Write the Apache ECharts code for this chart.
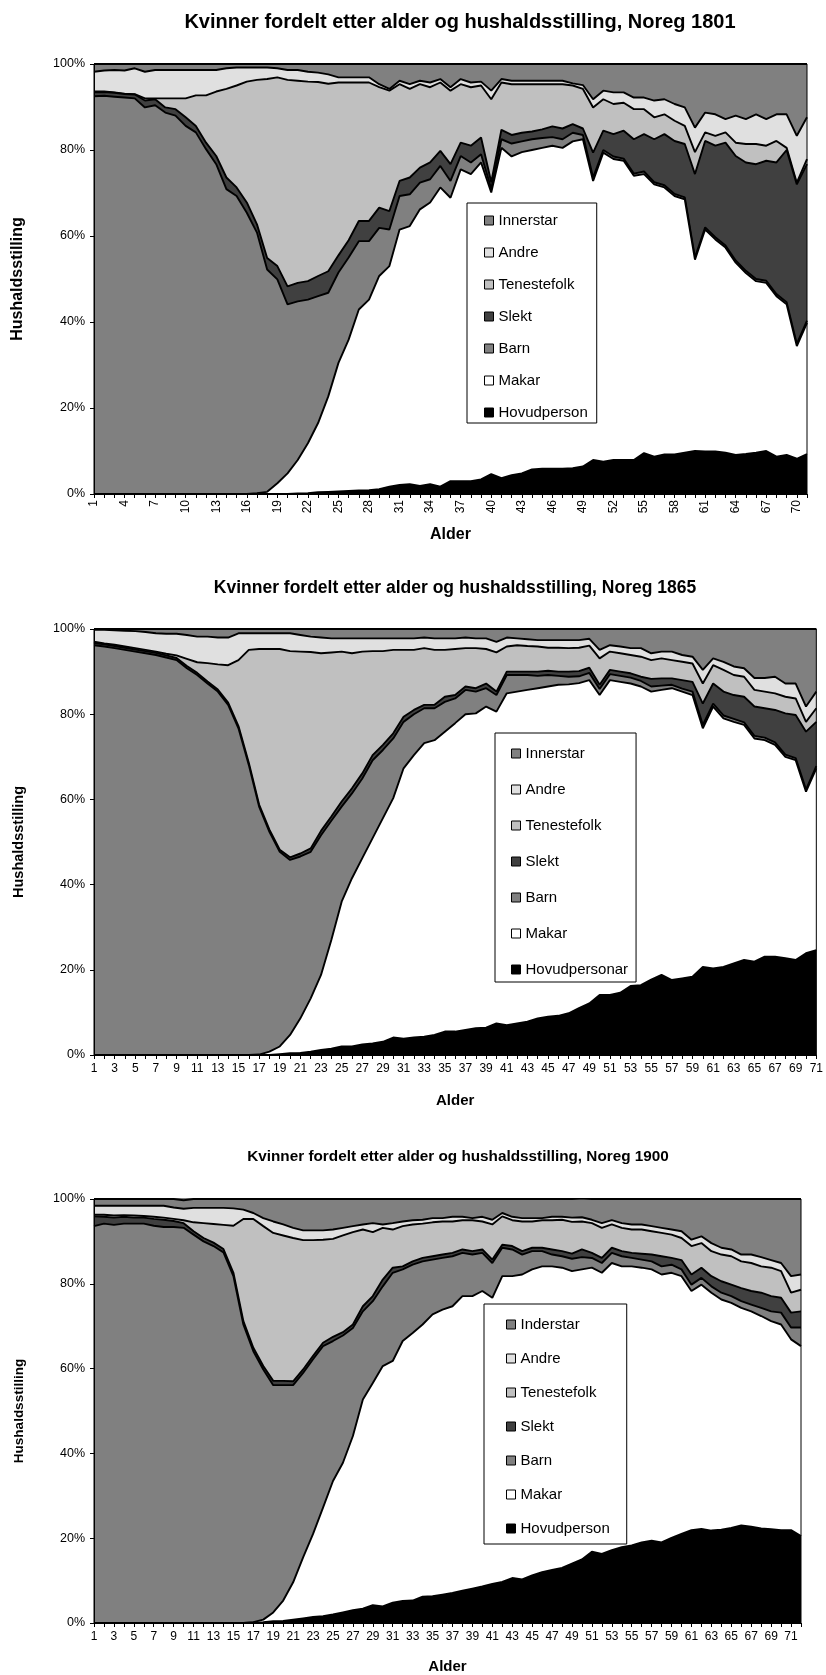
<!DOCTYPE html>
<html><head><meta charset="utf-8">
<script src="https://cdn.jsdelivr.net/npm/echarts@6/dist/echarts.min.js"></script>
<style>html,body{margin:0;padding:0;background:#fff}#c{width:826px;height:1675px}</style>
</head><body><div id="c"></div>
<script>
// ---------- categories (age) ----------
const ages1801 = [1,2,3,4,5,6,7,8,9,10,11,12,13,14,15,16,17,18,19,20,21,22,23,24,25,26,27,28,29,30,31,32,33,34,35,36,37,38,39,40,41,42,43,44,45,46,47,48,49,50,51,52,53,54,55,56,57,58,59,60,61,62,63,64,65,66,67,68,69,70,71];
const ages1865 = [1,2,3,4,5,6,7,8,9,10,11,12,13,14,15,16,17,18,19,20,21,22,23,24,25,26,27,28,29,30,31,32,33,34,35,36,37,38,39,40,41,42,43,44,45,46,47,48,49,50,51,52,53,54,55,56,57,58,59,60,61,62,63,64,65,66,67,68,69,70,71];
const ages1900 = [1,2,3,4,5,6,7,8,9,10,11,12,13,14,15,16,17,18,19,20,21,22,23,24,25,26,27,28,29,30,31,32,33,34,35,36,37,38,39,40,41,42,43,44,45,46,47,48,49,50,51,52,53,54,55,56,57,58,59,60,61,62,63,64,65,66,67,68,69,70,71,72];

// ---------- 1801 (percent) ----------
const hov1801 = [0,0,0,0,0,0,0,0,0,0, 0,0,0,0,0,0,0,0,0,0, 0.1,0.2,0.4,0.5,0.6,0.7,0.8,0.9,1.1,1.7, 2.1,2.3,1.9,2.3,1.7,3.0,3.0,3.0,3.4,4.6, 3.7,4.4,4.8,5.7,5.9,5.9,5.9,6.0,6.4,7.9, 7.5,7.9,7.9,7.9,9.5,8.7,9.2,9.2,9.6,10.0, 9.9,9.9,9.6,9.1,9.3,9.6,10.0,8.7,9.1,8.2, 9.3];
const mak1801 = [0,0,0,0,0,0,0,0,0,0, 0,0,0,0,0,0,0.2,0.5,2.5,4.8, 7.8,11.6,16.1,22.2,29.9,35.2,42.1,44.3,49.6,51.3, 59.4,60.0,64.3,65.5,69.6,65.9,72.5,71.4,73.7,65.5, 76.8,74.1,74.7,74.3,74.6,75.1,74.6,76.0,76.1,64.9, 71.9,70.0,69.6,66.1,64.9,63.3,62.1,60.1,58.9,44.5, 51.6,49.3,47.7,44.7,42.1,39.9,39.1,37.3,35.0,26.2, 30.5];
const barn1801 = [92.5,92.6,92.4,92.2,92.0,89.9,90.4,88.7,88.0,85.6, 84.1,80.2,76.7,70.9,69.3,65.4,60.6,51.7,47.4,39.3, 36.9,33.4,29.5,24.1,21.0,19.1,15.9,13.6,11.2,8.5, 7.8,7.4,6.2,5.4,5.0,3.9,3.1,2.7,1.9,0.9, 2.0,3.0,2.5,2.5,2.3,2.0,2.0,2.0,1.0,0.8, 0.6,0.6,0.5,0.5,0.6,0.5,0.5,0.5,0.5,0.5, 0.5,0.5,0.5,0.5,0.5,0.5,0.5,0.5,0.5,0.5, 0.5];
const slekt1801 = [0.9,0.9,0.9,0.8,0.9,1.6,1.4,1.2,1.5,2.0, 1.5,1.5,1.9,2.7,2.0,2.4,1.9,2.7,3.1,4.2, 4.3,4.3,4.7,5.0,4.0,4.0,4.7,4.7,4.7,4.3, 3.5,3.9,3.5,3.9,3.5,3.9,3.1,3.9,3.9,1.5, 2.2,2.0,2.0,1.8,2.0,2.5,2.5,2.0,1.5,5.8, 4.5,5.2,6.5,8.0,8.7,10.0,11.9,12.3,12.4,19.4, 20.1,21.3,23.9,24.3,25.2,26.7,27.9,30.6,35.4,37.1, 36.4];
const ten1801 = [0.2,0.1,0.1,0.1,0.1,0.5,0.2,2.1,2.5,4.4, 7.1,11.0,15.0,20.6,23.7,28.1,33.6,41.6,43.9,48.0, 47.0,46.4,45.1,43.6,40.2,36.7,32.2,32.2,28.0,28.0, 22.5,20.6,19.4,17.5,15.9,17.1,13.6,13.6,12.1,19.3, 11.0,11.8,11.3,11.0,10.5,9.8,10.3,9.0,9.2,10.5, 7.3,7.0,6.5,7.0,5.8,5.1,4.6,4.7,4.2,5.1, 2.0,2.3,2.4,3.1,4.3,4.7,3.5,5.0,0.5,0.4, 1.2];
const andre1801 = [4.6,4.9,5.2,5.4,6.0,6.2,6.6,6.6,6.6,6.6, 5.9,5.9,5.0,4.8,4.2,3.3,2.9,2.7,2.1,2.3, 2.5,2.3,2.2,2.2,1.2,1.2,1.2,1.2,0.7,0.4, 0.8,1.1,0.8,1.1,0.8,0.8,1.2,1.1,0.9,2.0, 0.8,0.8,0.8,0.8,0.8,0.8,0.8,0.5,0.9,1.9, 2.0,2.7,2.4,2.7,2.7,3.9,3.5,3.9,4.3,5.7, 4.6,5.0,3.1,6.3,5.8,6.9,6.2,6.2,7.8,10.9, 9.7];
const inn1801 = [1.8,1.5,1.4,1.5,1.0,1.8,1.4,1.4,1.4,1.4, 1.4,1.4,1.4,1.0,0.8,0.8,0.8,0.8,1.0,1.4, 1.4,1.8,2.0,2.4,3.1,3.1,3.1,3.1,4.7,5.8, 3.9,4.7,3.9,4.3,3.5,5.4,3.5,4.3,4.1,6.2, 3.5,3.9,3.9,3.9,3.9,3.9,3.9,4.5,4.9,8.2, 6.2,6.6,6.6,7.8,7.8,8.5,8.2,9.3,10.1,14.8, 11.3,11.7,12.8,12.0,12.8,11.7,12.8,11.7,11.7,16.7, 12.4];

// ---------- 1865 ----------
const hov1865 = [0,0,0,0,0,0,0,0,0,0, 0,0,0,0,0,0,0,0,0.2,0.4, 0.5,0.8,1.2,1.5,2.0,2.0,2.5,2.7,3.1,4.1, 3.8,4.1,4.3,4.7,5.5,5.5,5.9,6.3,6.4,7.4, 7.0,7.4,7.8,8.6,9.0,9.2,9.8,11.0,12.1,14.1, 14.1,14.6,16.2,16.4,17.7,18.8,17.6,18.0,18.4,20.7, 20.3,20.7,21.5,22.3,21.9,23.1,23.1,22.7,22.3,23.9, 24.6];
const mak1865 = [0,0,0,0,0,0,0,0,0,0, 0,0,0,0,0,0,0.1,0.8,1.8,4.3, 8.1,12.5,17.6,25.5,34.0,39.5,43.7,48.2,52.5,56.2, 63.5,66.3,68.9,69.2,70.4,72.4,74.1,73.9,75.4,73.2, 77.9,77.9,77.9,77.5,77.5,77.7,77.2,76.3,75.9,70.4, 73.9,73.0,71.0,70.1,67.6,66.9,68.5,67.3,66.1,56.0, 61.5,58.3,56.7,55.2,52.4,50.8,49.7,47.3,46.9,37.9, 42.7];
const barn1865 = [96.2,95.9,95.5,95.1,94.7,94.3,93.9,93.3,92.7,90.8, 89.2,87.2,85.3,82.2,76.7,68.1,58.2,51.6,45.7,41.1, 38.0,34.4,32.8,28.0,22.3,19.9,18.7,18.3,16.0,14.0, 10.9,9.6,8.2,7.5,7.0,5.8,5.7,5.1,4.3,3.9, 4.3,3.9,3.5,2.9,2.7,2.1,1.8,1.6,1.7,1.4, 1.4,1.4,1.4,1.3,1.2,1.0,0.8,0.7,0.8,0.8, 0.7,0.7,0.7,0.6,0.6,0.6,0.6,0.5,0.5,0.5, 0.5];
const slekt1865 = [0.5,0.5,0.5,0.5,0.5,0.5,0.5,0.5,0.5,0.5, 0.5,0.5,0.5,0.5,0.5,0.5,0.5,0.5,0.5,0.6, 0.7,0.8,1.0,1.0,1.2,1.2,1.2,1.2,1.2,1.2, 1.2,1.0,0.8,0.8,1.2,0.8,0.8,0.8,1.1,0.8, 0.8,0.8,0.8,1.0,1.0,1.0,1.2,1.2,1.2,1.0, 1.0,1.0,1.0,1.0,1.8,1.7,1.5,2.0,2.3,5.0, 4.7,5.6,5.6,6.0,6.9,6.9,7.6,9.7,10.1,13.6, 10.4];
const ten1865 = [0.3,0.2,0.3,0.3,0.3,0.3,0.3,0.4,0.6,1.7, 2.5,4.3,5.9,8.8,15.5,26.5,36.5,42.4,47.1,48.4, 47.4,46.1,41.7,38.5,35.2,31.7,28.6,24.4,22.0,19.6, 15.7,14.1,13.3,12.9,11.0,10.8,9.0,9.4,8.1,9.2, 5.9,6.2,6.0,5.9,5.4,5.6,5.5,5.5,5.2,6.2, 4.3,4.3,4.3,4.7,4.4,4.7,4.3,4.3,4.3,4.7, 4.3,5.1,4.7,4.7,3.9,3.9,3.9,3.9,3.9,2.3, 3.2];
const andre1865 = [2.8,3.2,3.4,3.7,4.0,4.2,4.3,4.7,5.1,5.6, 6.0,6.2,6.3,6.5,6.3,3.9,3.7,3.7,3.7,4.2, 3.9,3.6,3.7,3.3,3.1,3.5,3.1,3.0,3.0,2.7, 2.7,2.7,2.5,2.7,2.7,2.5,2.5,2.3,2.5,2.5, 2.1,1.6,1.6,1.5,1.8,1.8,1.9,1.8,1.6,2.0, 1.5,1.6,1.6,2.0,1.6,1.6,2.0,1.6,1.6,3.2, 1.6,1.9,2.0,2.0,2.8,3.2,3.9,3.1,3.5,3.6, 3.9];
const inn1865 = [0.2,0.2,0.3,0.4,0.5,0.7,1.0,1.1,1.1,1.4, 1.8,1.8,2.0,2.0,1.0,1.0,1.0,1.0,1.0,1.0, 1.4,1.8,2.0,2.2,2.2,2.2,2.2,2.2,2.2,2.2, 2.2,2.2,2.0,2.2,2.2,2.2,2.0,2.2,2.2,3.0, 2.0,2.2,2.4,2.6,2.6,2.6,2.6,2.6,2.3,4.9, 3.8,4.1,4.5,4.5,5.7,5.3,5.3,6.1,6.5,9.6, 6.9,7.7,8.8,9.2,11.5,11.5,11.2,12.8,12.8,18.2, 14.7];

// ---------- 1900 ----------
const hov1900 = [0,0,0,0,0,0,0,0,0,0, 0,0,0,0,0,0,0.1,0.2,0.4,0.5, 0.8,1.1,1.4,1.6,2.0,2.5,3.0,3.4,4.2,3.9, 4.8,5.2,5.3,6.2,6.3,6.7,7.1,7.6,8.1,8.6, 9.2,9.7,10.6,10.3,11.2,12.0,12.5,13.0,14.0,15.0, 16.8,16.3,17.2,17.9,18.3,19.0,19.4,19.0,20.1,21.0, 21.9,22.2,21.8,22.0,22.4,23.0,22.7,22.3,22.1,21.9, 21.9,20.5];
const mak1900 = [0,0,0,0,0,0,0,0,0,0, 0,0,0,0,0,0,0.1,0.6,2.1,4.8, 8.8,14.4,19.6,25.6,31.5,35.3,41.1,49.3,52.4,56.7, 57.0,61.3,63.1,64.2,66.5,67.2,67.6,69.5,69.0,69.7, 67.5,72.1,71.2,71.9,72.2,72.1,71.6,70.8,69.0,68.4, 67.0,66.3,67.7,66.2,65.8,64.8,64.0,63.2,62.5,60.8, 56.4,57.6,56.1,54.3,53.1,51.3,50.8,50.1,49.1,48.5, 45.0,44.8];
const barn1900 = [93.6,94.2,93.9,94.2,94.2,94.2,93.7,93.4,93.4,93.2, 91.6,90.0,88.9,87.4,81.8,70.4,63.9,59.0,53.6,50.8, 46.5,43.5,41.2,38.1,33.0,30.0,25.5,20.8,19.3,18.8, 20.8,16.9,16.1,14.9,12.9,12.2,11.8,10.2,9.8,9.0, 8.2,6.7,6.3,4.7,4.3,3.6,2.8,2.7,2.9,2.9, 2.3,2.3,2.4,2.4,2.0,1.9,1.9,1.9,1.9,1.6, 1.5,1.6,1.5,1.6,1.6,1.6,1.6,1.9,2.3,2.8, 2.8,4.4];
const slekt1900 = [2.3,1.6,1.7,1.6,1.4,1.4,1.6,1.7,1.4,1.1, 0.8,0.8,0.8,0.8,0.8,0.8,0.8,0.8,1.0,1.0, 0.9,0.8,0.8,0.8,1.0,0.8,0.8,1.2,1.2,1.6, 1.2,0.7,0.8,0.8,0.8,0.8,0.8,0.8,0.8,0.8, 0.8,0.7,0.8,0.8,0.8,0.8,1.2,1.2,1.2,1.8, 1.2,1.2,1.2,1.2,1.2,1.4,1.6,2.4,1.6,2.2, 2.4,2.4,2.4,2.7,2.7,3.1,3.2,3.6,3.6,3.5, 3.5,3.8];
const ten1900 = [0.4,0.5,0.5,0.4,0.5,0.4,0.5,0.5,0.5,0.7, 2.1,3.5,4.4,5.7,11.1,24.1,30.4,33.0,34.9,34.3, 33.8,30.5,27.3,24.3,23.1,22.8,21.8,18.1,15.1,12.2, 9.0,9.5,8.7,8.1,8.0,7.8,7.4,6.9,7.3,6.6, 8.3,6.7,6.1,7.0,6.2,6.5,6.9,7.4,7.5,6.6, 7.0,7.1,5.5,5.5,5.5,5.7,5.5,5.5,5.5,5.2, 6.7,5.8,5.9,6.3,6.7,6.3,6.6,6.2,6.7,6.3, 4.7,5.1];
const andre1900 = [2.1,2.1,2.3,2.2,2.3,2.4,2.6,2.8,2.7,2.7, 3.4,3.6,3.8,4.0,4.1,2.2,1.4,1.9,2.7,2.6, 2.4,2.3,2.3,2.2,2.2,1.8,1.4,1.2,2.1,0.8, 1.5,1.1,1.0,0.9,1.0,0.8,1.1,0.8,0.5,1.1, 1.1,0.8,0.8,0.8,0.8,0.5,0.8,0.7,1.0,1.0, 0.8,1.1,1.0,1.1,1.2,1.2,1.2,1.2,1.2,1.6, 1.5,1.6,1.9,1.6,1.6,1.6,2.0,2.2,1.8,1.9, 3.9,3.6];
const inn1900 = [1.6,1.6,1.6,1.6,1.6,1.6,1.6,1.6,2.0,2.0, 2.1,2.1,2.1,2.1,2.2,2.5,3.3,4.5,5.3,6.0, 6.8,7.4,7.4,7.4,7.2,6.8,6.4,6.0,5.7,6.0, 5.7,5.3,5.0,4.9,4.5,4.5,4.2,4.2,4.5,4.2, 4.9,3.3,4.2,4.5,4.5,4.5,4.2,4.2,4.4,4.5, 4.9,5.7,5.0,5.7,6.0,6.0,6.4,6.8,7.2,7.6, 9.6,8.8,10.4,11.5,11.9,13.1,13.1,13.7,14.4,15.1, 18.2,17.8];

// ---------- names (bottom -> top) ----------
const names1801 = ['Hovudperson','Makar','Barn','Slekt','Tenestefolk','Andre','Innerstar'];
const names1865 = ['Hovudpersonar','Makar','Barn','Slekt','Tenestefolk','Andre','Innerstar'];
const names1900 = ['Hovudperson','Makar','Barn','Slekt','Tenestefolk','Andre','Inderstar'];
const titles = ['Kvinner fordelt etter alder og hushaldsstilling, Noreg 1801',
                'Kvinner fordelt etter alder og hushaldsstilling, Noreg 1865',
                'Kvinner fordelt etter alder og hushaldsstilling, Noreg 1900'];

const FONT = "'Liberation Sans', Arial, Helvetica, sans-serif";
const fills = ['#000000','#ffffff','#808080','#404040','#c0c0c0','#e0e0e0','#808080'];

const panels = [
  {cats: ages1801, names: names1801, data:[hov1801,mak1801,barn1801,slekt1801,ten1801,andre1801,inn1801],
   grid:{left:94, top:64, width:713, height:430},
   title:{x:460, y:12, size:20},
   legend:{left:467, top:203, padding:[10,9,3,17], gap:17},
   xLab:{rotate:90, interval:2, margin:6}, xNameGap:33, xNameSize:16, yNameSize:16},
  {cats: ages1865, names: names1865, data:[hov1865,mak1865,barn1865,slekt1865,ten1865,andre1865,inn1865],
   grid:{left:94, top:629, width:725, height:426},
   title:{x:455, y:579, size:17.5},
   legend:{left:495, top:733, padding:[13,8,5,16], gap:21},
   xLab:{rotate:0, interval:1, margin:8}, xNameGap:38, xNameSize:15, yNameSize:14.5},
  {cats: ages1900, names: names1900, data:[hov1900,mak1900,barn1900,slekt1900,ten1900,andre1900,inn1900],
   grid:{left:94, top:1199, width:707, height:424},
   title:{x:458, y:1149, size:15.3},
   legend:{left:484, top:1304, padding:[13,17,8,22], gap:19},
   xLab:{rotate:0, interval:1, margin:8}, xNameGap:36, xNameSize:15, yNameSize:13.5}
];

const option = {animation:false, backgroundColor:'#fff',
  title:[], grid:[], xAxis:[], yAxis:[], legend:[], series:[]};

panels.forEach((p, i) => {
  option.title.push({text: titles[i], left: p.title.x, top: p.title.y, textAlign:'center', padding:0,
    textStyle:{fontFamily:FONT, fontWeight:'bold', fontSize:p.title.size, color:'#000'}});
  option.grid.push(Object.assign({show:true, borderColor:'#000', borderWidth:1, backgroundColor:'transparent', z:20}, p.grid));
  option.xAxis.push({type:'category', gridIndex:i, data:p.cats, boundaryGap:false,
    name:'Alder', nameLocation:'middle', nameGap:p.xNameGap,
    nameTextStyle:{fontFamily:FONT, fontWeight:'bold', fontSize:p.xNameSize, color:'#000'},
    axisLine:{show:true, lineStyle:{color:'#000', width:1}}, z:21,
    axisTick:{show:true, interval:0, length:4, lineStyle:{color:'#000'}},
    axisLabel:{interval:p.xLab.interval, rotate:p.xLab.rotate, margin:p.xLab.margin,
      fontFamily:FONT, fontSize:12, color:'#000'},
    splitLine:{show:false}});
  option.yAxis.push({type:'value', gridIndex:i, min:0, max:100, interval:20,
    name:'Hushaldsstilling', nameLocation:'middle', nameGap:68,
    nameTextStyle:{fontFamily:FONT, fontWeight:'bold', fontSize:p.yNameSize, color:'#000'},
    axisLine:{show:true, lineStyle:{color:'#000', width:1}}, z:21,
    axisTick:{show:true, length:4, lineStyle:{color:'#000'}},
    axisLabel:{formatter:'{value}%', fontFamily:FONT, fontSize:12.5, color:'#000', margin:9},
    splitLine:{show:false}});
  option.legend.push({data: p.names.slice().reverse(), orient:'vertical', z:40, zlevel:0,
    left:p.legend.left, top:p.legend.top, padding:p.legend.padding, itemGap:p.legend.gap,
    itemWidth:9, itemHeight:9, icon:'rect', selectedMode:false,
    backgroundColor:'#fff', borderColor:'#000', borderWidth:1,
    itemStyle:{borderColor:'#000', borderWidth:1},
    textStyle:{fontFamily:FONT, fontSize:15, color:'#000', lineHeight:15}});
  p.names.forEach((nm, k) => {
    option.series.push({type:'line', name:nm, xAxisIndex:i, yAxisIndex:i, stack:'s'+i,
      data:p.data[k], symbol:'none', showSymbol:false, smooth:false, z:12 - k,
      lineStyle:{color:'#000', width:1.9},
      itemStyle:{color:fills[k], borderColor:'#000', borderWidth:1},
      areaStyle:{color:fills[k], opacity:1},
      emphasis:{disabled:true}, silent:true});
  });
});

const chart = echarts.init(document.getElementById('c'), null, {renderer:'canvas'});
chart.setOption(option);
</script></body></html>
